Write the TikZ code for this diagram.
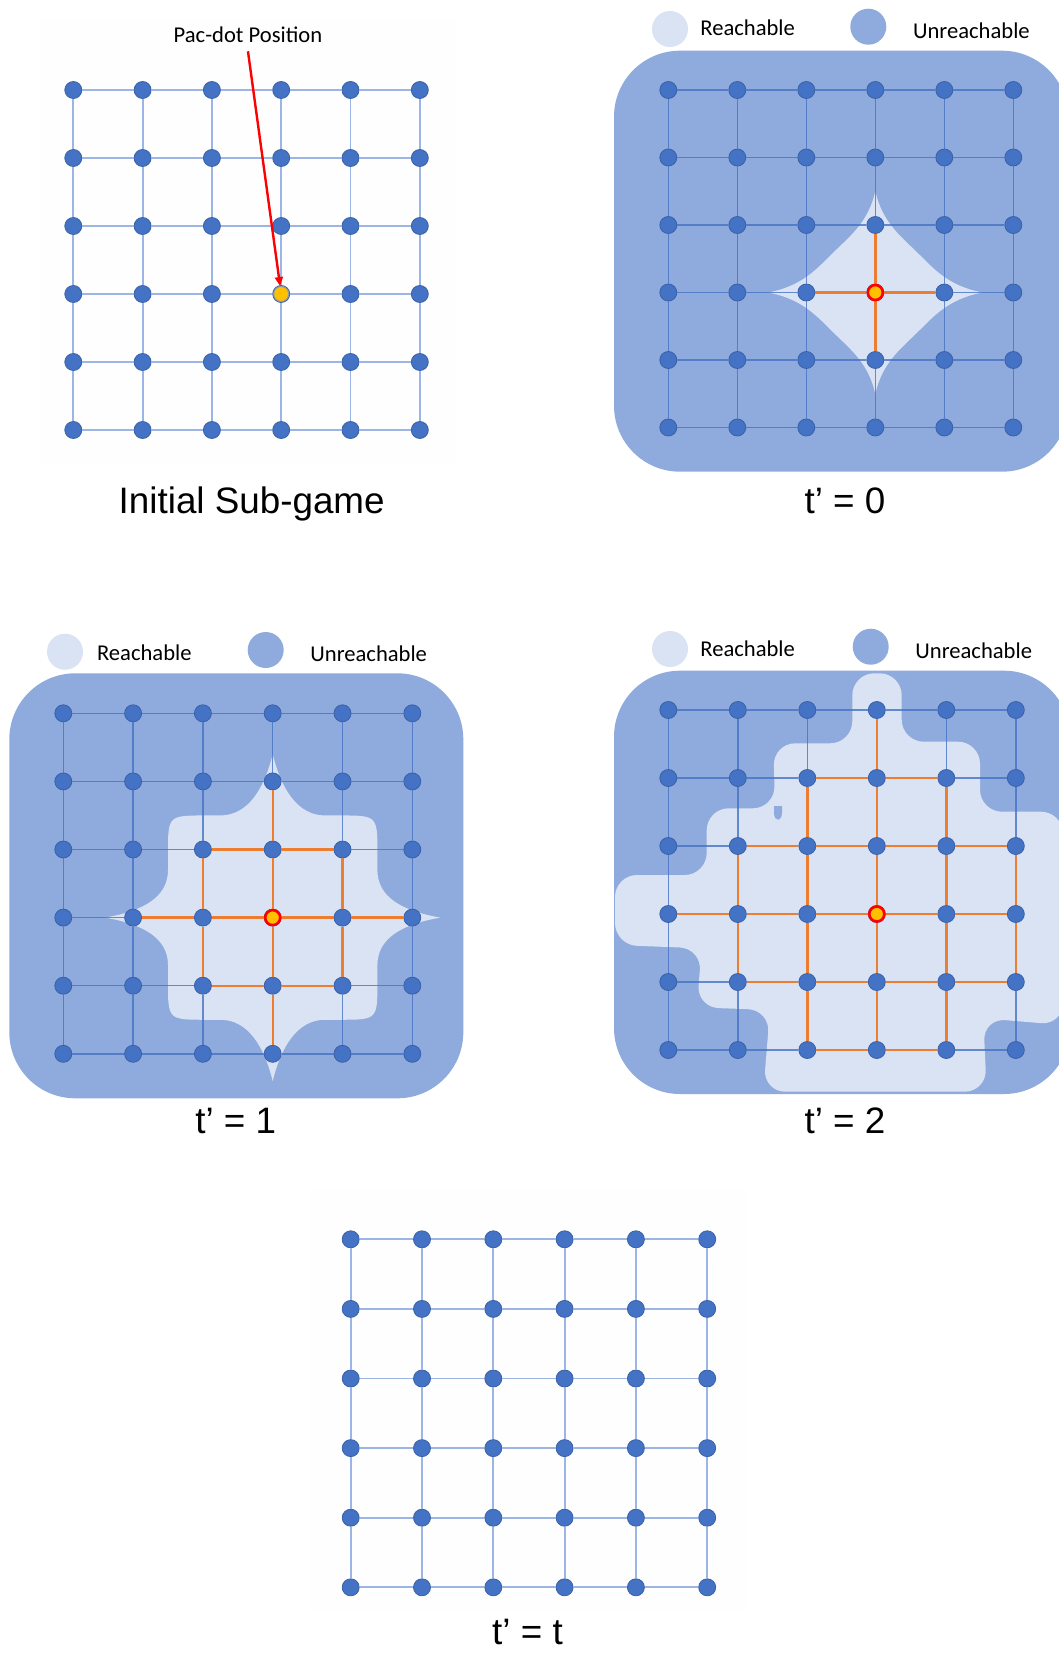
\documentclass[tikz,border=0pt]{standalone}
\usepackage{fontspec}
\setmainfont{Liberation Sans}
\newfontfamily\calibri{Carlito}
\usepackage{tikz}
\usetikzlibrary{arrows.meta}
\definecolor{dotblue}{RGB}{68,114,196}
\definecolor{lineblue}{RGB}{155,181,228}
\definecolor{unreachfill}{RGB}{143,170,220}
\definecolor{reachfill}{RGB}{218,227,243}
\definecolor{pathorange}{RGB}{237,125,49}
\definecolor{pacgold}{RGB}{255,192,0}

% 6x6 grid: name, first dot x/y, step x/y, reach, edge style
\newcommand{\pacgrid}[7]{%
  \foreach \col in {0,...,5}
    \foreach \row in {0,...,5}
      \node[dot] (#1-\col-\row) at ({#2+\col*#4},{#3+\row*#5}) {};
  \foreach \ia in {0,...,4}
    \foreach \ib in {0,...,5} {
      \pgfmathtruncatemacro\nx{\ia+1}
      \pgfmathtruncatemacro\hop{max(abs(\ia-3),abs(\ia-2))+abs(\ib-3)}
      \ifnum\hop>#6\relax
        \draw[#7] (#1-\ia-\ib) -- (#1-\nx-\ib) (#1-\ib-\ia) -- (#1-\ib-\nx);
      \else
        \draw[reachedge] (#1-\ia-\ib) -- (#1-\nx-\ib) (#1-\ib-\ia) -- (#1-\ib-\nx);
      \fi
    }%
}

\begin{document}
\begin{tikzpicture}[x=0.5pt, y=-0.5pt,
  dot/.style={circle, fill=dotblue, draw=dotblue!85!black, line width=0.4pt, minimum size=8.5pt, inner sep=0pt},
  pacdot/.style={circle, fill=pacgold, draw=black!40, line width=0.5pt, minimum size=7.5pt, inner sep=0pt},
  hotdot/.style={circle, fill=pacgold, draw=red, line width=1.3pt, minimum size=7.5pt, inner sep=0pt},
  lightedge/.style={lineblue, line width=0.9pt},
  gridedge/.style={dotblue, opacity=0.8, line width=0.7pt},
  reachedge/.style={pathorange, line width=1.2pt},
  unreachable/.style={fill=unreachfill, rounded corners=33pt},
  reachable/.style={fill=reachfill},
  legdot/.style={circle, minimum size=18pt, inner sep=0pt},
  legend/.style={font=\calibri\fontsize{11.3}{13}\selectfont, anchor=base west, inner sep=0pt},
  caption/.style={font=\fontsize{18.4}{22}\selectfont, anchor=base},
  pointer/.style={-{Triangle[length=4.5pt, width=4pt]}, red, line width=1.2pt}]

\useasboundingbox (0,0) rectangle (1059,1653);
\clip (0,0) rectangle (1059,1653);
\fill[white] (0,0) rectangle (1059,1653);

% initial sub-game
\fill[black!0.5] (40,20) rectangle (457,463);
\pacgrid{p1}{73.3}{90}{69.3}{68}{0}{lightedge}
\node[pacdot] (p1-pac) at (p1-3-3) {};
\node[legend, inner ysep=4pt] (pdlabel) at (173.3,42.7) {Pac-dot Position};
\draw[pointer] (pdlabel.south) -- (p1-pac);
\node[caption] (cap1) at (251.7,513.3) {Initial Sub-game};

% t' = 0
\fill[unreachable] (614,50.7) rectangle (1068,471.7);
\begin{scope}[shift={(875.3,292.5)}, x=34.5pt, y=33.75pt]
  \fill[reachable] (1.55,0) .. controls (1.05,0.1) and (0.85,0.35) .. (0.6,0.6)
    .. controls (0.35,0.85) and (0.1,1.05) .. (0,1.5)
    .. controls (-0.1,1.05) and (-0.35,0.85) .. (-0.6,0.6)
    .. controls (-0.85,0.35) and (-1.05,0.1) .. (-1.55,0)
    .. controls (-1.05,-0.1) and (-0.85,-0.35) .. (-0.6,-0.6)
    .. controls (-0.35,-0.85) and (-0.1,-1.05) .. (0,-1.5)
    .. controls (0.1,-1.05) and (0.35,-0.85) .. (0.6,-0.6)
    .. controls (0.85,-0.35) and (1.05,-0.1) .. (1.55,0) -- cycle;
\end{scope}
\pacgrid{p2}{668.3}{90}{69}{67.5}{1}{gridedge}
\node[hotdot] (p2-pac) at (p2-3-3) {};
\node[legdot, fill=reachfill] (r2) at (670,29) {};
\node[legend] (r2t) at (700,36) {Reachable};
\node[legdot, fill=unreachfill] (u2) at (868.3,26.7) {};
\node[legend] (u2t) at (912.7,38.3) {Unreachable};
\node[caption] (cap2) at (845,513.3) {t’ = 0};

% t' = 1
\fill[unreachable] (9.3,673.3) rectangle (463.3,1098.3);
\begin{scope}[shift={(272.7,917.6)}, x=34.9pt, y=34.05pt]
  \fill[reachable] (2.4,0) .. controls (1.85,0.1) and (1.5,0.3) .. (1.5,0.7)
    -- (1.5,0.95) .. controls (1.5,1.5) .. (0.95,1.5)
    -- (0.75,1.5) .. controls (0.35,1.5) and (0.12,1.9) .. (0,2.4)
    .. controls (-0.12,1.9) and (-0.35,1.5) .. (-0.75,1.5)
    -- (-0.95,1.5) .. controls (-1.5,1.5) .. (-1.5,0.95)
    -- (-1.5,0.7) .. controls (-1.5,0.3) and (-1.85,0.1) .. (-2.4,0)
    .. controls (-1.85,-0.1) and (-1.5,-0.3) .. (-1.5,-0.7)
    -- (-1.5,-0.95) .. controls (-1.5,-1.5) .. (-0.95,-1.5)
    -- (-0.75,-1.5) .. controls (-0.35,-1.5) and (-0.12,-1.9) .. (0,-2.4)
    .. controls (0.12,-1.9) and (0.35,-1.5) .. (0.75,-1.5)
    -- (0.95,-1.5) .. controls (1.5,-1.5) .. (1.5,-0.95)
    -- (1.5,-0.7) .. controls (1.5,-0.3) and (1.85,-0.1) .. (2.4,0) -- cycle;
\end{scope}
\pacgrid{p3}{63.3}{713.3}{69.8}{68.1}{2}{gridedge}
\node[hotdot] (p3-pac) at (p3-3-3) {};
\node[legdot, fill=reachfill] (r3) at (65,651.7) {};
\node[legend] (r3t) at (96.7,660) {Reachable};
\node[legdot, fill=unreachfill] (u3) at (265.7,650) {};
\node[legend] (u3t) at (310,661.7) {Unreachable};
\node[caption] (cap3) at (235.8,1133.3) {t’ = 1};

% t' = 2
\fill[unreachable] (614,670.7) rectangle (1070,1094);
\fill[reachable, rounded corners=11pt] (852.3,743.3) -- (852.3,673.3) -- (901.7,673.3)
  -- (901.7,741.7) -- (980,741.7) -- (980,811.7) -- (1063,811.7) -- (1063,1025)
  -- (983.3,1018.3) -- (986.7,1091.7) -- (763.3,1091.7) -- (770,1010)
  -- (696.7,1007.3) -- (701.7,948.3) -- (615,945) -- (615,875) -- (706.7,875)
  -- (706.7,808.3) -- (775,808.3) -- (773.3,743.3) -- cycle;
\fill[unreachfill] (774,806) -- (774,814) .. controls (775,822) and (782,822) .. (782,812) -- (782,806) -- cycle;
\pacgrid{p4}{668.3}{710}{69.5}{68}{3}{gridedge}
\node[hotdot] (p4-pac) at (p4-3-3) {};
\node[legdot, fill=reachfill] (r4) at (670,649) {};
\node[legend] (r4t) at (700,656) {Reachable};
\node[legdot, fill=unreachfill] (u4) at (870.7,646.7) {};
\node[legend] (u4t) at (915,658.3) {Unreachable};
\node[caption] (cap4) at (845,1133.3) {t’ = 2};

% t' = t
\fill[black!0.5] (310,1190) rectangle (747,1610);
\pacgrid{p5}{350.7}{1239.3}{71.3}{69.6}{0}{lightedge}
\node[caption] (cap5) at (527.5,1644.3) {t’ = t};
\end{tikzpicture}
\end{document}
